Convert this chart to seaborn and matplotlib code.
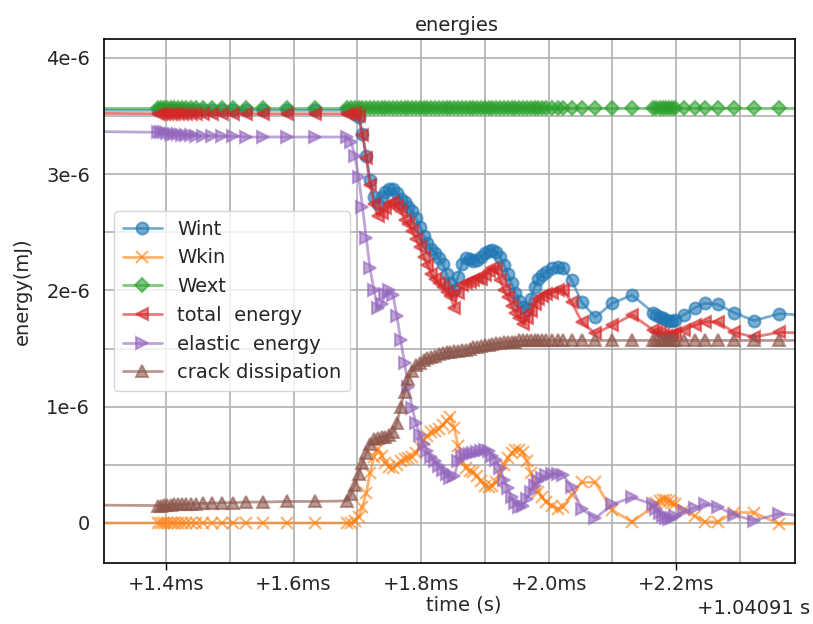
import matplotlib
matplotlib.use("Agg")
import matplotlib.pyplot as plt
import seaborn as sns

# time after the 1.04091 s offset, in ms (adaptive time step of the solver)
time_ms = [
    1.25,
    1.3875, 1.392, 1.397, 1.402, 1.407, 1.413, 1.419, 1.425, 1.432, 1.439,
    1.447, 1.4585, 1.4717, 1.4874, 1.5056, 1.5251, 1.5527, 1.5894, 1.6337,
    1.684, 1.690, 1.696, 1.702, 1.708, 1.714, 1.720, 1.726, 1.732, 1.738,
    1.744, 1.750, 1.756, 1.762, 1.768, 1.774, 1.780, 1.786, 1.792, 1.798,
    1.804, 1.810, 1.816, 1.822, 1.828, 1.834, 1.840, 1.846, 1.852, 1.858,
    1.864, 1.870, 1.876, 1.882, 1.888, 1.894, 1.900, 1.906, 1.912, 1.918,
    1.924, 1.930, 1.936, 1.942, 1.948, 1.954, 1.960, 1.966, 1.972, 1.978,
    1.984, 1.990, 1.996,
    2.005, 2.014, 2.023, 2.036, 2.052, 2.073, 2.100, 2.131,
    2.164, 2.169, 2.174, 2.179, 2.184, 2.189, 2.194, 2.199,
    2.212, 2.229, 2.245, 2.265, 2.291, 2.322, 2.362, 2.42,
]

# energies in units of 1e-6 mJ
wint = [
    3.55,
    3.55, 3.55, 3.55, 3.55, 3.55, 3.55, 3.55, 3.55, 3.55, 3.55,
    3.55, 3.55, 3.55, 3.55, 3.55, 3.55, 3.55, 3.55, 3.55,
    3.55, 3.54, 3.52, 3.49, 3.35, 3.16, 2.95, 2.80, 2.74, 2.80,
    2.85, 2.87, 2.87, 2.84, 2.79, 2.76, 2.72, 2.68, 2.62, 2.55,
    2.47, 2.41, 2.36, 2.32, 2.28, 2.23, 2.14, 2.06, 2.00, 2.12,
    2.23, 2.28, 2.27, 2.25, 2.26, 2.29, 2.32, 2.34, 2.35, 2.33,
    2.29, 2.22, 2.14, 2.06, 1.98, 1.91, 1.86, 1.83, 1.93, 2.03,
    2.10, 2.13, 2.16,
    2.19, 2.20, 2.19, 2.09, 1.90, 1.77, 1.89, 1.96,
    1.81, 1.79, 1.77, 1.76, 1.75, 1.74, 1.74, 1.75,
    1.79, 1.85, 1.89, 1.88, 1.81, 1.74, 1.80, 1.78,
]
wkin = [
    0.0,
    0.0, 0.0, 0.0, 0.0, 0.0, 0.0, 0.0, 0.0, 0.0, 0.0,
    0.0, 0.0, 0.0, 0.0, 0.0, 0.0, 0.0, 0.0, 0.0,
    0.0, 0.0, 0.02, 0.05, 0.14, 0.26, 0.43, 0.57, 0.64, 0.58,
    0.52, 0.48, 0.47, 0.50, 0.53, 0.55, 0.56, 0.57, 0.60, 0.65,
    0.71, 0.75, 0.78, 0.79, 0.81, 0.84, 0.88, 0.91, 0.82, 0.66,
    0.53, 0.47, 0.45, 0.44, 0.40, 0.36, 0.32, 0.31, 0.32, 0.35,
    0.42, 0.50, 0.56, 0.60, 0.63, 0.63, 0.61, 0.53, 0.43, 0.33,
    0.27, 0.22, 0.18,
    0.15, 0.12, 0.14, 0.24, 0.35, 0.35, 0.11, 0.01,
    0.14, 0.17, 0.19, 0.20, 0.20, 0.19, 0.17, 0.16,
    0.11, 0.06, 0.01, 0.01, 0.09, 0.09, -0.01, 0.0,
]
wext = [
    3.57,
    3.57, 3.57, 3.57, 3.57, 3.57, 3.57, 3.57, 3.57, 3.57, 3.57,
    3.57, 3.57, 3.57, 3.57, 3.57, 3.57, 3.57, 3.57, 3.57,
    3.57, 3.57, 3.57, 3.57, 3.57, 3.57, 3.57, 3.57, 3.57, 3.57,
    3.57, 3.57, 3.57, 3.57, 3.57, 3.57, 3.57, 3.57, 3.57, 3.57,
    3.57, 3.57, 3.57, 3.57, 3.57, 3.57, 3.57, 3.57, 3.57, 3.57,
    3.57, 3.57, 3.57, 3.57, 3.57, 3.57, 3.57, 3.57, 3.57, 3.57,
    3.57, 3.57, 3.57, 3.57, 3.57, 3.57, 3.57, 3.57, 3.57, 3.57,
    3.57, 3.57, 3.57,
    3.57, 3.57, 3.57, 3.57, 3.57, 3.57, 3.57, 3.57,
    3.57, 3.57, 3.57, 3.57, 3.57, 3.57, 3.57, 3.57,
    3.57, 3.57, 3.57, 3.57, 3.57, 3.57, 3.57, 3.57,
]
total_energy = [
    3.525,
    3.52, 3.52, 3.52, 3.52, 3.52, 3.52, 3.52, 3.52, 3.52, 3.52,
    3.52, 3.52, 3.52, 3.52, 3.52, 3.52, 3.52, 3.52, 3.52,
    3.52, 3.52, 3.53, 3.50, 3.34, 3.14, 2.91, 2.74, 2.64, 2.67,
    2.71, 2.74, 2.76, 2.73, 2.68, 2.61, 2.57, 2.51, 2.44, 2.37,
    2.29, 2.22, 2.14, 2.10, 2.06, 2.03, 1.99, 1.95, 1.85, 1.98,
    2.05, 2.06, 2.07, 2.09, 2.11, 2.10, 2.13, 2.17, 2.19, 2.18,
    2.09, 2.00, 1.94, 1.87, 1.81, 1.76, 1.71, 1.76, 1.82, 1.88,
    1.93, 1.95, 1.97,
    1.98, 2.00, 2.00, 1.90, 1.73, 1.63, 1.70, 1.79,
    1.66, 1.64, 1.63, 1.62, 1.61, 1.61, 1.62, 1.63,
    1.66, 1.70, 1.73, 1.73, 1.64, 1.60, 1.64, 1.63,
]
elastic_energy = [
    3.37,
    3.36, 3.36, 3.36, 3.355, 3.35, 3.35, 3.345, 3.34, 3.34, 3.335,
    3.33, 3.33, 3.33, 3.325, 3.325, 3.32, 3.32, 3.32, 3.32,
    3.32, 3.28, 3.16, 2.98, 2.72, 2.45, 2.19, 2.00, 1.85, 1.88,
    1.97, 2.00, 1.96, 1.78, 1.57, 1.38, 1.17, 0.99, 0.86, 0.76,
    0.68, 0.62, 0.57, 0.53, 0.49, 0.46, 0.42, 0.39, 0.40, 0.53,
    0.58, 0.59, 0.59, 0.60, 0.61, 0.62, 0.63, 0.62, 0.58, 0.54,
    0.47, 0.37, 0.30, 0.22, 0.17, 0.14, 0.15, 0.21, 0.27, 0.32,
    0.36, 0.39, 0.41,
    0.42, 0.42, 0.41, 0.31, 0.12, 0.04, 0.16, 0.22,
    0.16, 0.12, 0.09, 0.06, 0.04, 0.03, 0.04, 0.06,
    0.10, 0.13, 0.16, 0.14, 0.07, 0.02, 0.08, 0.05,
]
crack_dissipation = [
    0.155,
    0.15, 0.15, 0.155, 0.155, 0.155, 0.16, 0.16, 0.16, 0.165, 0.165,
    0.165, 0.17, 0.17, 0.175, 0.175, 0.18, 0.18, 0.185, 0.185,
    0.19, 0.25, 0.33, 0.42, 0.52, 0.60, 0.68, 0.72, 0.73, 0.74,
    0.74, 0.76, 0.78, 0.86, 1.00, 1.13, 1.24, 1.31, 1.36, 1.38,
    1.40, 1.42, 1.43, 1.44, 1.45, 1.46, 1.47, 1.47, 1.48, 1.48,
    1.49, 1.49, 1.50, 1.51, 1.51, 1.52, 1.53, 1.53, 1.54, 1.55,
    1.55, 1.56, 1.56, 1.56, 1.56, 1.57, 1.57, 1.57, 1.57, 1.57,
    1.57, 1.57, 1.57,
    1.57, 1.57, 1.57, 1.57, 1.57, 1.57, 1.57, 1.57,
    1.57, 1.57, 1.57, 1.57, 1.57, 1.57, 1.57, 1.57,
    1.57, 1.57, 1.57, 1.57, 1.57, 1.57, 1.57, 1.57,
]

series = [
    ("Wint", wint, "o", "#1f77b4", 8.6),
    ("Wkin", wkin, "x", "#ff7f0e", 8.6),
    ("Wext", wext, "D", "#2ca02c", 6.8),
    ("total  energy", total_energy, "<", "#d62728", 8.6),
    ("elastic  energy", elastic_energy, ">", "#9467bd", 8.6),
    ("crack dissipation", crack_dissipation, "^", "#8c564b", 8.6),
]

x_labels = ["+1.4ms", "+1.6ms", "+1.8ms", "+2.0ms", "+2.2ms"]
y_labels = ["0", "1e-6", "2e-6", "3e-6", "4e-6"]

sns.set_style("white")
plt.rcParams["font.family"] = ["DejaVu Sans"]
plt.rcParams["font.size"] = 14

fig, ax = plt.subplots(figsize=(8.13, 6.24), dpi=100)
fig.subplots_adjust(left=0.128, right=0.978, top=0.9375, bottom=0.0978)

for name, values, mk, col, ms in series:
    sns.lineplot(
        x=time_ms,
        y=values,
        ax=ax,
        label=name,
        color=col,
        marker=mk,
        markersize=ms,
        markeredgecolor=col,
        markeredgewidth=1.5,
        linewidth=2.0,
        alpha=0.6,
        estimator=None,
        sort=False,
    )

ax.set_xlim(1.3027, 2.3867)
ax.set_ylim(-0.344, 4.163)

# only 1.4 and 2.2 carry a tick mark in the original, the rest are grid only
ax.set_xticks([1.4, 2.2])
ax.set_xticklabels([x_labels[0], x_labels[-1]])
ax.set_xticks([1.5, 1.6, 1.7, 1.8, 1.9, 2.0, 2.1, 2.3], minor=True)
ax.set_xticklabels(["", x_labels[1], "", x_labels[2], "", x_labels[3], "", ""], minor=True)
ax.tick_params(axis="x", which="major", length=5, width=1.0, pad=3.6, labelsize=14,
               direction="out", bottom=True, color="black")
ax.tick_params(axis="x", which="minor", length=0, pad=8.6, labelsize=14, bottom=True)

ax.set_yticks([0, 1, 2, 3, 4])
ax.set_yticklabels(y_labels)
ax.set_yticks([0.5, 1.5, 2.5, 3.5], minor=True)
ax.tick_params(axis="y", which="both", length=0, pad=10, labelsize=14)

ax.grid(True, which="both", color="#b0b0b0", linewidth=1.2)
ax.set_axisbelow(True)
for sp in ax.spines.values():
    sp.set_color("black")
    sp.set_linewidth(1.2)

ax.set_title("energies", fontsize=14, x=0.511)
ax.set_xlabel("time (s)", fontsize=14)
ax.xaxis.set_label_coords(0.521, -0.063)
ax.set_ylabel("energy(mJ)", fontsize=14)
ax.yaxis.set_label_coords(-0.105, 0.519)
fig.text(0.997, 0.0256, "+1.04091 s", fontsize=14, ha="right", va="center")

ax.legend(
    loc="upper left",
    bbox_to_anchor=(0.0145, 0.672),
    borderaxespad=0,
    fontsize=14,
    labelspacing=0.5,
    handlelength=2.0,
    borderpad=0.45,
    framealpha=0.8,
    edgecolor="0.8",
    fancybox=True,
)

fig.savefig("out.png", dpi=100)
